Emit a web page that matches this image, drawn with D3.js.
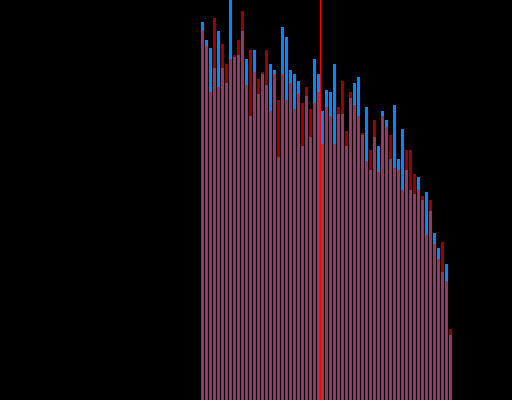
<!DOCTYPE html>
<html><head><meta charset="utf-8">
<script src="https://cdn.jsdelivr.net/npm/d3@7"></script>
<style>html,body{margin:0;padding:0;background:#000;overflow:hidden}</style>
</head><body>
<script>
// Histogram counts per bin (two overlapping series)
const blueValues = [378,360,352,332,369,332,317,402,343,345,369,341,284,350,306,326,315,336,330,243,373,363,330,326,319,254,304,263,341,326,289,310,308,336,286,286,254,302,317,323,265,293,230,263,254,289,280,241,295,241,271,230,210,206,223,200,208,189,167,152,128,136,65];
const redValues = [369,354,308,382,313,356,336,341,345,360,389,315,350,328,321,328,350,289,326,300,326,300,317,291,306,297,313,291,297,308,256,293,284,256,293,319,269,308,295,284,267,239,250,280,228,284,273,265,232,230,210,250,250,226,210,204,165,200,156,141,158,119,71];
const markerBin = 29.875;
const yDomain = [0, 400];

const width = 512, height = 400;
const svg = d3.select("body").append("svg")
  .attr("width", width).attr("height", height)
  .style("display", "block").style("background", "#000");

const bins = d3.range(blueValues.length);
const x = d3.scaleBand().domain(bins).range([200.5, 452.5]).paddingInner(0.25).paddingOuter(0.125);
const xLin = d3.scaleLinear().domain([0, bins.length]).range([201, 453]);
const y = d3.scaleLinear().domain(yDomain).range([height, 0]);

svg.append("g").attr("shape-rendering", "crispEdges")
  .selectAll("rect").data(blueValues).join("rect")
  .attr("x", (d, i) => x(i)).attr("width", x.bandwidth())
  .attr("y", d => y(d)).attr("height", d => y(0) - y(d))
  .attr("fill", "#0088ff");

svg.append("g").attr("shape-rendering", "crispEdges")
  .selectAll("rect").data(redValues).join("rect")
  .attr("x", (d, i) => x(i)).attr("width", x.bandwidth())
  .attr("y", d => y(d)).attr("height", d => y(0) - y(d))
  .attr("fill", "#ff0000").attr("fill-opacity", 0.6);

svg.append("line")
  .attr("x1", xLin(markerBin)).attr("x2", xLin(markerBin))
  .attr("y1", 0).attr("y2", height)
  .attr("stroke", "#ff0000").attr("stroke-width", 1);
</script>
</body></html>
